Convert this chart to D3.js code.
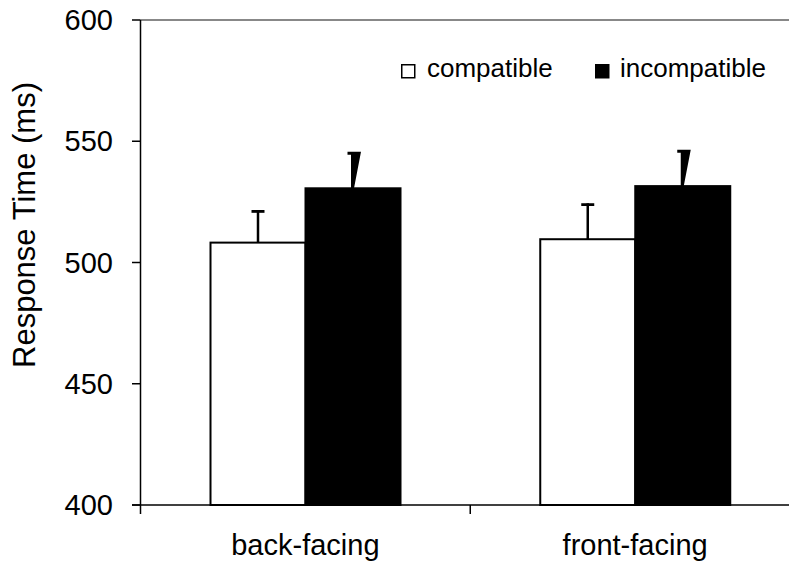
<!DOCTYPE html>
<html><head><meta charset="utf-8">
<script src="https://cdn.jsdelivr.net/npm/d3@7"></script>
<style>html,body{margin:0;padding:0;background:#fff;}svg{display:block;font-family:"Liberation Sans",Arial,sans-serif;}</style>
</head><body>
<svg id="chart" width="789" height="564"></svg>
<script>
const categories = ["back-facing", "front-facing"];
const seriesNames = ["compatible", "incompatible"];
const compatibleValues = [508.2, 509.6];
const incompatibleValues = [530.6, 531.5];
const compatibleErrors = [13.4, 14.8];
const incompatibleErrors = [15.1, 15.0];
const yTicks = [400, 450, 500, 550, 600];

const svg = d3.select("#chart");
const plotLeft = 140.5, plotRight = 800, plotTop = 20, plotBottom = 505;

const y = d3.scaleLinear().domain([400, 600]).range([plotBottom, plotTop]);
const x0 = d3.scaleBand().domain(categories).range([plotLeft, plotRight]).paddingInner(0).paddingOuter(0);
const x1 = d3.scaleBand().domain(seriesNames).range([70, 330 - 70]).padding(0);

const data = categories.map((c, i) => ({
  cat: c,
  vals: [
    {s: "compatible", v: compatibleValues[i], e: compatibleErrors[i]},
    {s: "incompatible", v: incompatibleValues[i], e: incompatibleErrors[i]}
  ]
}));

// top gray border
svg.append("line").attr("x1", plotLeft).attr("x2", 789).attr("y1", plotTop).attr("y2", plotTop)
  .attr("stroke", "#888").attr("stroke-width", 2);

// bars
const g = svg.selectAll("g.cat").data(data).join("g").attr("class", "cat")
  .attr("transform", d => `translate(${x0(d.cat)},0)`);

g.selectAll("rect").data(d => d.vals).join("rect")
  .attr("x", d => x1(d.s))
  .attr("y", d => y(d.v))
  .attr("width", x1.bandwidth())
  .attr("height", d => y(400) - y(d.v))
  .attr("fill", d => d.s === "compatible" ? "#fff" : "#000")
  .attr("stroke", "#000").attr("stroke-width", 2);

// error bars
g.each(function(d) {
  const sel = d3.select(this);
  d.vals.forEach(v => {
    const cx = x1(v.s) + x1.bandwidth() / 2;
    const yTop = y(v.v + v.e), yBar = y(v.v);
    if (v.s === "compatible") {
      sel.append("line").attr("x1", cx).attr("x2", cx).attr("y1", yTop).attr("y2", yBar)
        .attr("stroke", "#000").attr("stroke-width", 2.5);
      sel.append("line").attr("x1", cx - 6.5).attr("x2", cx + 6.5).attr("y1", yTop + 1.3).attr("y2", yTop + 1.3)
        .attr("stroke", "#000").attr("stroke-width", 2.8);
    } else {
      const pts = [[cx - 5.5, yTop], [cx + 8, yTop], [cx + 1, yBar], [cx - 2, yBar], [cx - 2, yTop + 3], [cx - 5.5, yTop + 3]];
      sel.append("path").attr("d", "M" + pts.map(p => p.join(",")).join("L") + "Z").attr("fill", "#000");
    }
  });
});

// y axis
svg.append("line").attr("x1", plotLeft).attr("x2", plotLeft).attr("y1", plotTop).attr("y2", plotBottom)
  .attr("stroke", "#000").attr("stroke-width", 1.5);
const ytg = svg.selectAll("g.yt").data(yTicks).join("g").attr("class", "yt");
ytg.append("line").attr("x1", 132).attr("x2", plotLeft).attr("y1", d => y(d)).attr("y2", d => y(d))
  .attr("stroke", "#000").attr("stroke-width", 1.5);
ytg.append("text").attr("x", 113).attr("y", d => y(d)).attr("dy", "0.35em")
  .attr("text-anchor", "end").attr("font-size", 29).text(d => d);

// x axis
svg.append("line").attr("x1", 132).attr("x2", 789).attr("y1", plotBottom).attr("y2", plotBottom)
  .attr("stroke", "#000").attr("stroke-width", 1.5);
const xTickPos = categories.map(c => x0(c)).concat([plotRight]);
svg.selectAll("line.xt").data(xTickPos).join("line").attr("class", "xt")
  .attr("x1", d => d).attr("x2", d => d).attr("y1", plotBottom).attr("y2", 514)
  .attr("stroke", "#000").attr("stroke-width", 1.5);
svg.selectAll("text.cl").data(categories).join("text").attr("class", "cl")
  .attr("x", d => x0(d) + x0.bandwidth() / 2).attr("y", 555)
  .attr("text-anchor", "middle").attr("font-size", 29).text(d => d);

// y label
svg.append("text").attr("transform", "translate(35,225) rotate(-90)")
  .attr("text-anchor", "middle").attr("font-size", 31).text("Response Time (ms)");

// legend
const legX = [401, 595];
const leg = svg.selectAll("g.leg").data(seriesNames).join("g").attr("class", "leg")
  .attr("transform", (d, i) => `translate(${legX[i]},64)`);
leg.append("rect").attr("x", 0.75).attr("y", 0.75).attr("width", 13).attr("height", 13)
  .attr("fill", (d, i) => i === 0 ? "#fff" : "#000").attr("stroke", "#000").attr("stroke-width", 1.5);
leg.append("text").attr("x", (d, i) => i === 0 ? 26 : 25).attr("y", 13).attr("font-size", 26).text(d => d);
</script>
</body></html>
